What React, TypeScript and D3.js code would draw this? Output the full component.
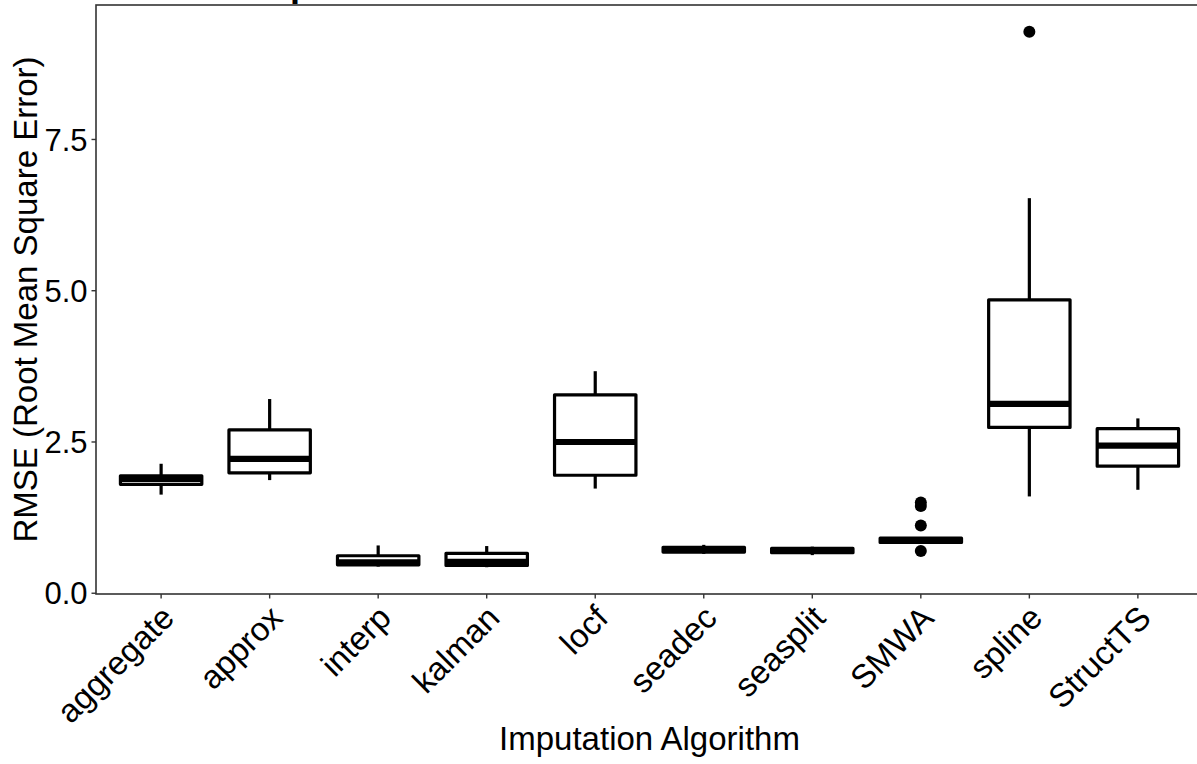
import React, { useEffect } from "react";
import * as d3 from "d3";

const categories = ["aggregate", "approx", "interp", "kalman", "locf", "seadec", "seasplit", "SMWA", "spline", "StructTS"];
const whiskerLow = [1.63, 1.87, 0.44, 0.43, 1.73, 0.65, 0.63, 0.83, 1.60, 1.71];
const q1 = [1.80, 1.99, 0.47, 0.46, 1.95, 0.68, 0.67, 0.84, 2.74, 2.10];
const median = [1.89, 2.22, 0.51, 0.52, 2.50, 0.72, 0.71, 0.875, 3.13, 2.44];
const q3 = [1.94, 2.70, 0.62, 0.66, 3.28, 0.76, 0.74, 0.91, 4.85, 2.72];
const whiskerHigh = [2.14, 3.21, 0.79, 0.78, 3.67, 0.80, 0.77, 0.92, 6.53, 2.89];
const outlierCats = ["SMWA", "SMWA", "SMWA", "SMWA", "spline"];
const outlierVals = [1.50, 1.44, 1.12, 0.70, 9.28];
const yTicks = [0, 2.5, 5, 7.5];

const W = 1197;
const H = 764;
const FONT = "'Liberation Sans', Arial, Helvetica, sans-serif";

export default function App() {
  useEffect(() => {
    document.body.style.margin = "0";
  }, []);

  const left = 96, right = 1203, top = 5, bottom = 594;
  const allVals = [...whiskerLow, ...whiskerHigh, ...outlierVals];
  const lo = d3.min(allVals) as number;
  const hi = d3.max(allVals) as number;
  const pad = (hi - lo) * 0.05;
  const y = d3.scaleLinear().domain([lo - pad, hi + pad]).range([bottom, top]);
  const x = d3.scalePoint<string>().domain(categories).range([left, right]).padding(0.6);
  const bw = x.step() * 0.75;
  const fmt = d3.format(".1f");

  return (
    <svg width={W} height={H} style={{ position: "absolute", left: 0, top: 0, background: "#fff" }} fontFamily={FONT}>
      <rect x={0} y={0} width={W} height={H} fill="#fff" />
      <text x={left} y={-4.5} fontSize={36} fontWeight="bold" fill="#000">RMSE Comparison</text>
      {/* panel border */}
      <rect x={left} y={top} width={right - left} height={bottom - top} fill="none" stroke="#333" strokeWidth={1.6} />
      {/* y ticks */}
      {yTicks.map((t) => (
        <g key={t}>
          <line x1={left - 4.5} x2={left} y1={y(t)} y2={y(t)} stroke="#333" strokeWidth={1.4} />
          <text x={left - 8.5} y={y(t)} dy="0.36em" textAnchor="end" fontSize={31} fill="#000">{fmt(t)}</text>
        </g>
      ))}
      {/* x ticks */}
      {categories.map((c) => (
        <g key={c}>
          <line x1={x(c)} x2={x(c)} y1={bottom} y2={bottom + 4.5} stroke="#333" strokeWidth={1.4} />
          <text
            transform={`translate(${x(c) as number},${bottom + 11}) rotate(-45)`}
            textAnchor="end"
            dy={21}
            fontSize={33}
            fill="#000"
          >
            {c}
          </text>
        </g>
      ))}
      {/* boxes */}
      {categories.map((c, i) => {
        const cx = x(c) as number;
        return (
          <g key={"b" + c} stroke="#000" fill="none" strokeLinejoin="round">
            <line x1={cx} x2={cx} y1={y(q3[i])} y2={y(whiskerHigh[i])} strokeWidth={3.2} />
            <line x1={cx} x2={cx} y1={y(q1[i])} y2={y(whiskerLow[i])} strokeWidth={3.2} />
            <rect x={cx - bw / 2} y={y(q3[i])} width={bw} height={y(q1[i]) - y(q3[i])} fill="#fff" strokeWidth={3.2} />
            <line x1={cx - bw / 2} x2={cx + bw / 2} y1={y(median[i])} y2={y(median[i])} strokeWidth={6.2} />
          </g>
        );
      })}
      {outlierCats.map((c, i) => (
        <circle key={"o" + i} cx={x(c)} cy={y(outlierVals[i])} r={6} fill="#000" />
      ))}
      {/* axis titles */}
      <text x={(left + right) / 2} y={750} textAnchor="middle" fontSize={33} fill="#000">Imputation Algorithm</text>
      <text transform={`translate(37,${(top + bottom) / 2}) rotate(-90)`} textAnchor="middle" fontSize={33} fill="#000">
        RMSE (Root Mean Square Error)
      </text>
    </svg>
  );
}
